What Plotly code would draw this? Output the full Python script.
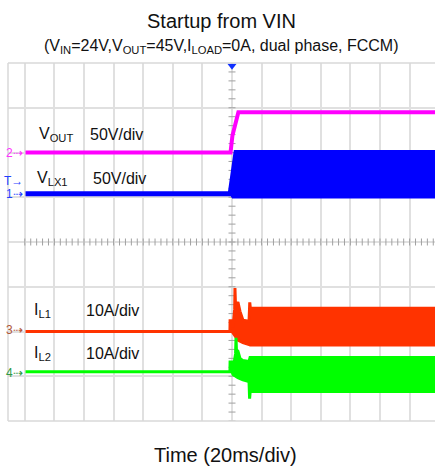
import numpy as np
import plotly.graph_objects as go

# ---- captured waveforms: time in ms (trigger at t = 0), values in V or A ----
# V_OUT (single trace)
vout_t = [-139.5, -1.0, 0.3, 4.3, 138]
vout_v = [0, 0, 19, 45, 45]

# V_LX1 switching node: upper / lower envelope of the switching band
vlx_up_t = [-139.5, -1.2, 2.7, 138]
vlx_up_v = [0, 0, 46, 46]
vlx_lo_t = [-139.5, 0.0, 1.0, 138]
vlx_lo_v = [0, 0, -2.5, -2.5]

# I_L1 inductor current envelope
il1_up_t = [-139.5, -1.4, -1.3, 0.0, 0.7, 1.8, 2.0, 2.4, 4.0, 5.4, 7.4, 11.5, 12.0, 12.4, 138]
il1_up_v = [0, 0, 2.4, 2.4, 1.0, 5.0, 9.7, 5.5, 6.6, 4.5, 2.5, 2.3, 6.5, 5.2, 5.2]
il1_lo_t = [-139.5, 0.0, 0.7, 4.0, 7.4, 11.5, 12.2, 138]
il1_lo_v = [0, 0, -0.3, -1.9, -2.5, -2.9, -3.0, -3.0]

# I_L2 inductor current envelope
il2_up_t = [-139.5, -1.4, -1.3, 0.0, 0.7, 2.4, 2.7, 3.0, 4.0, 5.4, 7.4, 11.5, 12.2, 138]
il2_up_v = [0, 0, 2.2, 2.2, 0.5, 4.0, 7.6, 4.9, 4.6, 3.0, 2.5, 2.3, 3.2, 3.2]
il2_lo_t = [-139.5, 0.0, 0.7, 4.0, 7.4, 11.5, 11.9, 12.3, 138]
il2_lo_v = [0, 0, -0.6, -1.3, -1.8, -2.2, -6.0, -4.4, -4.4]

# scope channel settings: (units per division, vertical offset in divisions)
CH_SCALE = {"vout": 50, "vlx": 50, "il1": 10, "il2": 10}
CH_OFFSET = {"vout": 2.0, "vlx": 1.08, "il1": -2.0, "il2": -2.9}
CH_COLOR = {"vout": "#FF00FF", "vlx": "#0000FF", "il1": "#FF3300", "il2": "#00FF00"}

T_DIV = 20.0          # ms per horizontal division
X_RANGE = [-151.35, 137.16]
Y_RANGE = [-4, 4]
FONT = "Liberation Sans, Arial, sans-serif"


def to_div(ch, values):
    return [v / CH_SCALE[ch] + CH_OFFSET[ch] for v in values]


fig = go.Figure()

# graticule centre lines with minor ticks
fig.add_shape(type="line", xref="x", yref="y", x0=X_RANGE[0], x1=X_RANGE[1], y0=0, y1=0,
              line=dict(color="#A6A6A6", width=1), layer="below")
fig.add_shape(type="line", xref="x", yref="y", x0=0, x1=0, y0=-4, y1=4,
              line=dict(color="#A6A6A6", width=1), layer="below")
hx = np.arange(-140, 137, T_DIV / 5)
fig.add_trace(go.Scatter(x=hx, y=np.zeros_like(hx), mode="markers", hoverinfo="skip",
                         marker=dict(symbol="line-ns", size=5, line=dict(color="#A0A0A0", width=1))))
vy = np.arange(-4, 4.01, 0.2)
fig.add_trace(go.Scatter(x=np.zeros_like(vy), y=vy, mode="markers", hoverinfo="skip",
                         marker=dict(symbol="line-ew", size=5, line=dict(color="#A0A0A0", width=1))))

# V_OUT
fig.add_trace(go.Scatter(x=vout_t, y=to_div("vout", vout_v), mode="lines", hoverinfo="skip",
                         line=dict(color=CH_COLOR["vout"], width=4)))


def band(ch, up_t, up_v, lo_t, lo_v, width):
    xs = list(up_t) + list(lo_t)[::-1]
    ys = to_div(ch, up_v) + to_div(ch, lo_v)[::-1]
    fig.add_trace(go.Scatter(x=xs, y=ys, mode="lines", fill="toself", hoverinfo="skip",
                             fillcolor=CH_COLOR[ch],
                             line=dict(color=CH_COLOR[ch], width=width)))


band("vlx", vlx_up_t, vlx_up_v, vlx_lo_t, vlx_lo_v, 5)
band("il1", il1_up_t, il1_up_v, il1_lo_t, il1_lo_v, 3)
band("il2", il2_up_t, il2_up_v, il2_lo_t, il2_lo_v, 3)

# trigger position marker
fig.add_trace(go.Scatter(x=[0], y=[3.94], mode="markers", hoverinfo="skip", cliponaxis=False,
                         marker=dict(symbol="triangle-down", size=8, color="#1030FF")))

# screen border (left / top / bottom)
for x0, x1, y0, y1 in [(0, 0, 0, 1), (0, 1, 1, 1), (0, 1, 0, 0)]:
    fig.add_shape(type="line", xref="paper", yref="paper", x0=x0, x1=x1, y0=y0, y1=y1,
                  line=dict(color="#D8D8D8", width=1.5))

# channel labels
labels = [
    ("V<sub>OUT</sub>", -131.8, 2.41), ("50V/div", -97.6, 2.41),
    ("V<sub>LX1</sub>", -133.1, 1.42), ("50V/div", -95.1, 1.42),
    ("I<sub>L1</sub>", -135.1, -1.54), ("10A/div", -100.3, -1.54),
    ("I<sub>L2</sub>", -135.1, -2.49), ("10A/div", -100.3, -2.49),
]
for text, x, y in labels:
    fig.add_annotation(text=text, x=x, y=y, xref="x", yref="y", xanchor="left", yanchor="middle",
                       showarrow=False, font=dict(family=FONT, size=16, color="#111111"))

# channel ground / trigger level markers
markers = [
    ("2⇢", 2.0, "#FF33FF"), ("T→", 1.36, "#1F3FFF"), ("1⇢", 1.07, "#1F3FFF"),
    ("3⇢", -1.97, "#B0583A"), ("4⇢", -2.93, "#2F9A45"),
]
for text, y, color in markers:
    fig.add_annotation(text=text, x=-139.6, y=y, xref="x", yref="y", xanchor="right",
                       yanchor="middle", showarrow=False,
                       font=dict(family=FONT, size=12, color=color))

# titles
fig.add_annotation(text="Startup from VIN", x=0.5, y=(421 - 21) / 358, xref="paper", yref="paper",
                   xanchor="center", yanchor="middle", showarrow=False,
                   font=dict(family=FONT, size=20, color="#111111"))
fig.add_annotation(text="(V<sub>IN</sub>=24V,V<sub>OUT</sub>=45V,I<sub>LOAD</sub>=0A, dual phase, FCCM)",
                   x=0.5, y=(421 - 46) / 358, xref="paper", yref="paper",
                   xanchor="center", yanchor="middle", showarrow=False,
                   font=dict(family=FONT, size=16, color="#111111"))
fig.add_annotation(text="Time (20ms/div)", x=0.5105, y=(421 - 455) / 358, xref="paper", yref="paper",
                   xanchor="center", yanchor="middle", showarrow=False,
                   font=dict(family=FONT, size=20, color="#111111"))

fig.update_xaxes(range=X_RANGE, tick0=0, dtick=T_DIV, showgrid=True, gridcolor="#E0E0E0",
                 gridwidth=1.5, zeroline=False, showticklabels=False, ticks="", showline=False)
fig.update_yaxes(range=Y_RANGE, tick0=0, dtick=1, showgrid=True, gridcolor="#E0E0E0",
                 gridwidth=1.5, zeroline=False, showticklabels=False, ticks="", showline=False)

fig.update_layout(width=435, height=469, margin=dict(l=8, r=0, t=63, b=48),
                  paper_bgcolor="white", plot_bgcolor="white", showlegend=False)

fig.write_html("out.html")
